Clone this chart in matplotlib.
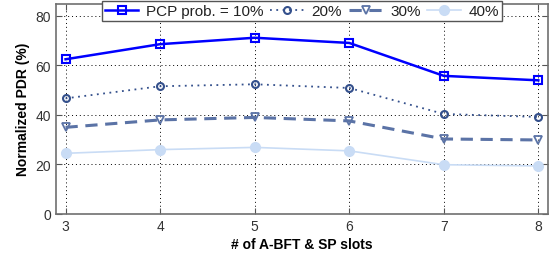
import matplotlib
matplotlib.use('Agg')
import matplotlib.pyplot as plt

plt.rcParams['font.family'] = ['Liberation Sans', 'DejaVu Sans']

slots = [3, 4, 5, 6, 7, 8]
pdr_10 = [62.5, 68.6, 71.2, 69.1, 55.8, 54.0]
pdr_20 = [46.7, 51.6, 52.4, 50.9, 40.4, 39.2]
pdr_30 = [35.0, 38.0, 39.0, 37.6, 30.3, 29.9]
pdr_40 = [24.5, 26.0, 26.9, 25.5, 19.9, 19.4]
labels = ['PCP prob. = 10%', '20%', '30%', '40%']

fig = plt.figure(figsize=(5.5, 2.55), dpi=100)
ax = fig.add_axes([0.102, 0.157, 0.894, 0.825])

ax.plot(slots, pdr_10, color='#0000ff', lw=1.8, marker='s', ms=5.5,
        mfc='none', mec='#0000ff', mew=1.5, label=labels[0], zorder=5)
ax.plot(slots, pdr_20, color='#34508c', lw=1.3, ls=(0, (1, 2.5)), marker='o', ms=5,
        mfc='none', mec='#34508c', mew=1.5, label=labels[1], zorder=4)
ax.plot(slots, pdr_30, color='#5b73a6', lw=2.2, ls=(0, (4, 2.5)), marker='v', ms=6,
        mfc='none', mec='#5b73a6', mew=1.3, label=labels[2], zorder=3)
ax.plot(slots, pdr_40, color='#c9dcf5', lw=1.2, marker='o', ms=7,
        mfc='#c9dcf5', mec='#c9dcf5', label=labels[3], zorder=2)

ax.set_xlim(2.9, 8.1)
ax.set_ylim(0, 85)
ax.set_xticks(slots)
ax.set_yticks([0, 20, 40, 60, 80])
ax.grid(True, color='black', ls=(0, (1, 3)), lw=0.7)
ax.tick_params(direction='in', colors='#555555', labelcolor='#333333',
               labelsize=10, top=True, right=True, length=4)
for s in ax.spines.values():
    s.set_color('#707070')
    s.set_linewidth(1.2)

ax.set_xlabel('# of A-BFT & SP slots', fontsize=10, fontweight='bold', labelpad=3)
ax.set_ylabel('Normalized PDR (%)', fontsize=10, fontweight='bold', labelpad=4)

leg = ax.legend(ncol=4, loc='center', mode='expand',
                bbox_to_anchor=(0.185, 0.906, 0.728, 0.094),
                bbox_transform=fig.transFigure, fontsize=11,
                fancybox=False, framealpha=1, edgecolor='#555555',
                handlelength=2.2, handletextpad=0.5, columnspacing=0.8,
                borderpad=0.2, borderaxespad=0)
leg.get_frame().set_linewidth(1.0)
leg.set_zorder(10)
for t in leg.get_texts():
    t.set_color('#222222')

fig.savefig('out.png', dpi=100)
